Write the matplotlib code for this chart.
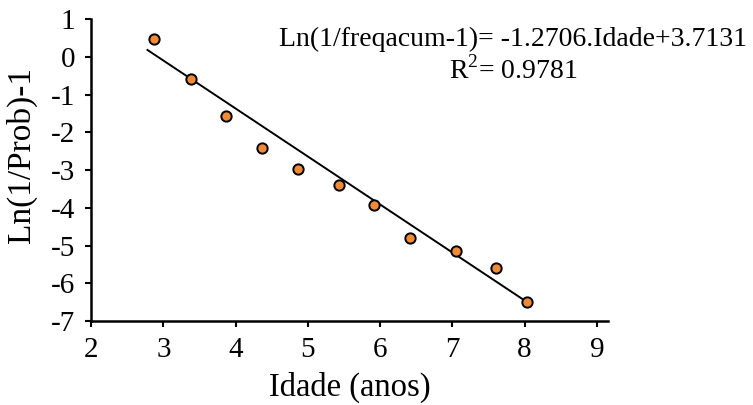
import matplotlib
matplotlib.use("Agg")
import matplotlib.pyplot as plt
import numpy as np

# data
idade = [2.87, 3.38, 3.87, 4.36, 4.87, 5.43, 5.91, 6.41, 7.05, 7.60, 8.03]
ln_prob = [0.48, -0.59, -1.57, -2.42, -2.97, -3.39, -3.92, -4.79, -5.13, -5.59, -6.48]
slope = -1.2706
intercept = 3.7131
r2 = 0.9781
line_x = [2.78, 7.98]

plt.rcParams['font.family'] = ['Liberation Serif', 'DejaVu Serif']
plt.rcParams['axes.unicode_minus'] = False
plt.rcParams['mathtext.fontset'] = 'custom'
plt.rcParams['mathtext.rm'] = 'Liberation Serif'

fig = plt.figure(figsize=(7.53, 4.05), dpi=100)
ax = fig.add_axes([0.121, 0.207, 0.686, 0.746])

lx = np.array(line_x)
ax.plot(lx, slope * lx + intercept, color='black', lw=1.4, zorder=2)
ax.scatter(idade, ln_prob, s=55, color='#F08A35', edgecolors='black', linewidths=1.4, zorder=3)

ax.set_xlim(2, 9.15)
ax.set_ylim(-7, 1)
ax.set_xticks(range(2, 10))
ax.set_yticks(range(-7, 2))
ax.spines['top'].set_visible(False)
ax.spines['right'].set_visible(False)
ax.spines['left'].set_bounds(-7, 1)
for s in ['left', 'bottom']:
    ax.spines[s].set_linewidth(1.8)
ax.tick_params(direction='out', length=4.5, width=1.5, labelsize=21, pad=7)

ax.set_xlabel('Idade (anos)', fontsize=23.5, labelpad=6.5)
ax.set_ylabel('Ln(1/Prob)-1', fontsize=24)
ax.yaxis.set_label_coords(-0.105, 0.55)

ax.text(0.817, 0.975, 'Ln(1/freqacum-1)= -1.2706.Idade+3.7131\nR$^\\mathrm{2}$= ' + f'{r2}',
        transform=ax.transAxes, ha='center', va='top', fontsize=20, linespacing=1.2)

fig.savefig('out.png', dpi=100)
